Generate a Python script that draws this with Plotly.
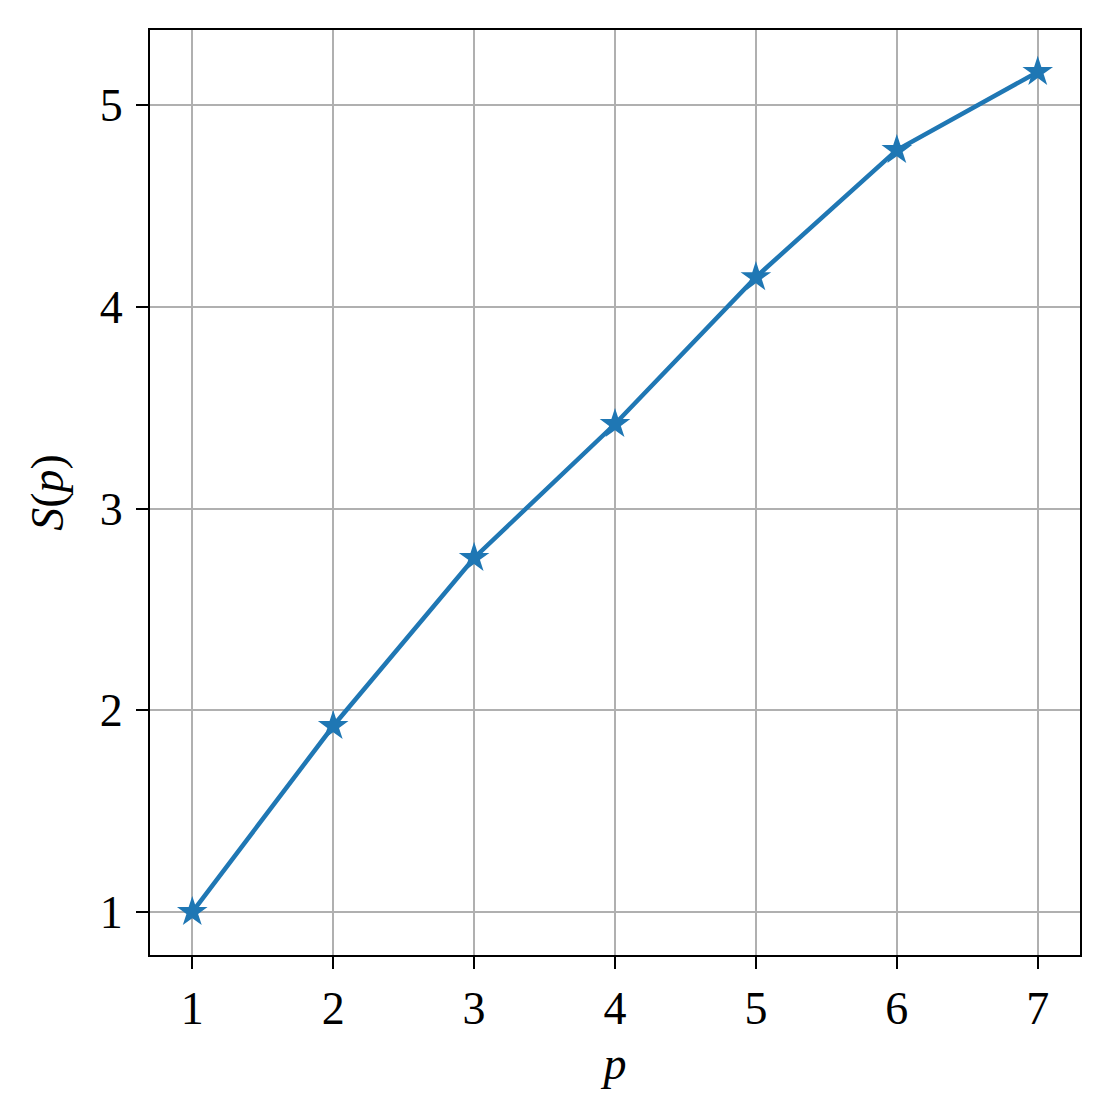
import plotly.graph_objects as go

# processor count p and speedup S(p)
p_values = [1, 2, 3, 4, 5, 6, 7]
speedup = [1.0, 1.922, 2.755, 3.419, 4.147, 4.777, 5.164]

x_ticks = [1, 2, 3, 4, 5, 6, 7]
y_ticks = [1, 2, 3, 4, 5]

FONT = "Liberation Serif"
BLUE = "#1f77b4"

fig = go.Figure()
fig.add_trace(go.Scatter(
    x=p_values, y=speedup, mode="lines+markers",
    line=dict(color=BLUE, width=4.5),
    marker=dict(symbol="star", size=23, color=BLUE, line=dict(width=0)),
    showlegend=False,
))

axis_common = dict(
    showline=True, linecolor="black", linewidth=2, mirror=True,
    showgrid=True, gridcolor="#b0b0b0", gridwidth=2,
    ticks="outside", ticklen=12, tickwidth=2, tickcolor="black",
    tickfont=dict(family=FONT, size=46, color="black"),
    zeroline=False,
)

fig.update_xaxes(
    range=[0.70, 7.30], tickvals=x_ticks,
    title=dict(text="<i>p</i>", font=dict(family=FONT, size=46, color="black"), standoff=14),
    **axis_common,
)
fig.update_yaxes(
    range=[0.787, 5.372], tickvals=y_ticks, ticklabelstandoff=4,
    title=dict(text="<i>S</i>(<i>p</i>)", font=dict(family=FONT, size=46, color="black"), standoff=22),
    **axis_common,
)

# the page body adds ~8px, so margins are shifted to put the box at 150..1080 / 30..955
fig.update_layout(
    width=1110, height=1118,
    margin=dict(l=142, r=38, t=22, b=171),
    plot_bgcolor="white", paper_bgcolor="white",
    font=dict(family=FONT, color="black"),
)

fig.write_html("out.html")
